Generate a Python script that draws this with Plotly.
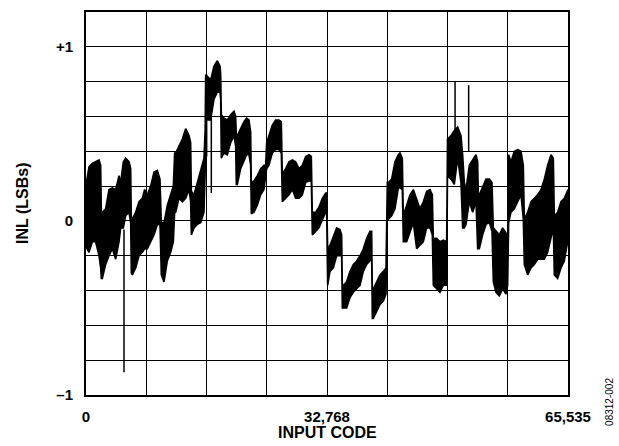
import plotly.graph_objects as go

# ---- data (INL envelope: max / min per input code) ----
codes = [0, 91, 408, 861, 1314, 1767, 1994, 2085, 2221, 2674, 3127, 3580, 4033, 4487,
         4713, 5076, 5393, 5846, 6073, 6163, 6299, 6753, 7206, 7659, 7976, 8339, 8792,
         9245, 9698, 10061, 10242, 10605, 11058, 11511, 11874, 12055, 12191, 12644, 13097,
         13551, 14004, 14230, 14321, 14684, 15137, 15590, 16043, 16200, 16270, 16496, 16949,
         17403, 17856, 18218, 18309, 18400, 18762, 19215, 19669, 20122, 20348, 20439, 20575,
         21028, 21481, 21844, 22161, 22388, 22478, 22841, 23294, 23747, 24201, 24427, 24563,
         24880, 25334, 25787, 26240, 26557, 26693, 27146, 27600, 28053, 28506, 28959, 29412,
         29866, 30319, 30636, 30772, 31225, 31678, 32132, 32585, 32721, 32857, 33174, 33627,
         34080, 34533, 34760, 34851, 34987, 35440, 35893, 36346, 36799, 37253, 37706, 38159,
         38612, 38839, 38929, 39065, 39519, 39972, 40425, 40788, 40969, 41105, 41558, 42011,
         42464, 42691, 43008, 43144, 43597, 44051, 44504, 44957, 45410, 45863, 46317, 46770,
         47087, 47223, 47676, 48129, 48582, 49036, 49150, 49626, 50079, 50532, 50985, 51212,
         51439, 51665, 52118, 52572, 53025, 53251, 53342, 53478, 53931, 54384, 54838, 55200,
         55381, 55744, 56197, 56650, 57104, 57330, 57466, 57783, 58237, 58690, 59143, 59460,
         59596, 60049, 60503, 60956, 61409, 61862, 62315, 62769, 63222, 63539, 63675, 64128,
         64581, 65034, 65487, 65535]

inl_max = [0.23, 0.23, 0.31, 0.33, 0.34, 0.35, 0.32, 0.05, 0.05, 0.07, 0.18, 0.19, 0.18, 0.26,
           0.22, 0.34, 0.36, 0.34, 0.30, 0.01, 0.01, 0.05, 0.11, 0.13, 0.18, 0.15, 0.20,
           0.28, 0.29, 0.24, -0.01, -0.01, 0.09, 0.15, 0.20, 0.39, 0.39, 0.43, 0.47,
           0.53, 0.49, 0.45, 0.17, 0.15, 0.22, 0.30, 0.36, 0.52, 0.84, 0.83, 0.81,
           0.89, 0.92, 0.89, 0.85, 0.61, 0.59, 0.58, 0.61, 0.63, 0.60, 0.49, 0.49,
           0.53, 0.57, 0.59, 0.58, 0.51, 0.22, 0.23, 0.26, 0.30, 0.32, 0.32, 0.45,
           0.49, 0.55, 0.58, 0.58, 0.57, 0.27, 0.30, 0.34, 0.35, 0.34, 0.30, 0.32,
           0.37, 0.38, 0.37, 0.05, 0.05, 0.08, 0.13, 0.16, 0.16, -0.16, -0.14, -0.09,
           -0.04, -0.05, -0.08, -0.37, -0.37, -0.35, -0.29, -0.25, -0.23, -0.20, -0.16, -0.10,
           -0.06, -0.06, -0.39, -0.39, -0.35, -0.31, -0.29, -0.27, 0.22, 0.22, 0.24, 0.34,
           0.38, 0.39, 0.36, 0.03, 0.09, 0.15, 0.18, 0.13, 0.07, 0.11, 0.17, 0.18,
           0.15, -0.10, -0.10, -0.12, -0.11, -0.12, 0.47, 0.49, 0.52, 0.54, 0.49, 0.38,
           0.22, 0.18, 0.32, 0.35, 0.38, 0.34, 0.15, 0.15, 0.20, 0.24, 0.24, 0.22,
           -0.04, -0.06, -0.08, -0.04, -0.07, -0.12, 0.38, 0.34, 0.40, 0.41, 0.40, 0.32,
           0.01, 0.05, 0.11, 0.13, 0.15, 0.18, 0.24, 0.32, 0.38, 0.36, 0.03, 0.05,
           0.11, 0.13, 0.18, 0.18]

inl_min = [-0.15, -0.15, -0.18, -0.12, -0.12, -0.20, -0.27, -0.33, -0.33, -0.25, -0.20, -0.16, -0.22, -0.12,
           -0.04, -0.04, 0.03, 0.05, -0.01, -0.30, -0.31, -0.27, -0.20, -0.18, -0.16, -0.16, -0.12,
           -0.08, -0.02, -0.02, -0.31, -0.35, -0.23, -0.18, -0.12, 0.05, 0.05, 0.13, 0.11,
           0.13, 0.18, 0.11, -0.08, -0.04, -0.02, -0.01, 0.05, 0.28, 0.58, 0.58, 0.58,
           0.70, 0.74, 0.74, 0.70, 0.36, 0.39, 0.38, 0.45, 0.49, 0.43, 0.21, 0.21,
           0.30, 0.34, 0.38, 0.38, 0.32, 0.04, 0.05, 0.09, 0.15, 0.18, 0.26, 0.30,
           0.32, 0.39, 0.41, 0.41, 0.39, 0.11, 0.13, 0.15, 0.18, 0.13, 0.13, 0.15,
           0.22, 0.23, 0.23, -0.08, -0.06, -0.04, 0.01, 0.05, 0.05, -0.37, -0.29, -0.27,
           -0.20, -0.20, -0.20, -0.50, -0.50, -0.50, -0.44, -0.41, -0.39, -0.37, -0.29, -0.25,
           -0.23, -0.20, -0.56, -0.56, -0.52, -0.48, -0.46, -0.42, 0.01, 0.01, 0.03, 0.07,
           0.19, 0.19, 0.18, -0.12, -0.12, -0.06, -0.01, -0.16, -0.14, -0.12, -0.04, -0.04,
           -0.08, -0.37, -0.39, -0.41, -0.37, -0.37, 0.26, 0.24, 0.21, 0.36, 0.22, -0.04,
           -0.04, -0.02, 0.11, 0.05, 0.11, -0.16, -0.16, -0.16, -0.08, -0.02, -0.01, -0.06,
           -0.35, -0.41, -0.43, -0.39, -0.42, -0.37, -0.01, 0.05, 0.07, 0.11, 0.15, 0.01,
           -0.25, -0.31, -0.27, -0.25, -0.22, -0.22, -0.22, -0.18, -0.10, -0.04, -0.31, -0.33,
           -0.27, -0.23, -0.12, -0.12]

# isolated glitch codes (vertical spikes) with their start / end INL
spike_codes = [5167, 16407, 17040, 50180, 52028]
spike_from = [-0.05, 0.84, 0.60, 0.50, 0.40]
spike_to = [-0.87, 0.37, 0.16, 0.80, 0.78]

x_tickvals = [0, 8192, 16384, 24576, 32768, 40960, 49152, 57344, 65535]
x_ticktext = ["0", "", "", "", "32,768", "", "", "", "65,535"]
y_tickvals = [-1.0, -0.8, -0.6, -0.4, -0.2, 0.0, 0.2, 0.4, 0.6, 0.8, 1.0, 1.2]
y_ticktext = ["–1", "", "", "", "", "0", "", "", "", "", "+1", ""]

fig = go.Figure()

# envelope polygon
fig.add_trace(go.Scatter(
    x=codes + codes[::-1],
    y=inl_max + inl_min[::-1],
    mode="lines", fill="toself", fillcolor="black",
    line=dict(color="black", width=1.6), hoverinfo="skip", showlegend=False))

for c, a, b in zip(spike_codes, spike_from, spike_to):
    fig.add_trace(go.Scatter(x=[c, c], y=[a, b], mode="lines",
                             line=dict(color="black", width=1.5),
                             showlegend=False, hoverinfo="skip"))

FONT = "Liberation Sans, Arial, Helvetica, sans-serif"

fig.update_layout(
    width=619, height=446,
    margin=dict(l=86, r=51, t=10, b=51),
    paper_bgcolor="white", plot_bgcolor="white",
    font=dict(family=FONT, color="black"),
    showlegend=False,
    xaxis=dict(range=[0, 65535], tickvals=x_tickvals, ticktext=x_ticktext,
               showgrid=True, gridcolor="black", gridwidth=1,
               showline=True, linecolor="black", linewidth=2, mirror=True,
               zeroline=False, ticks="", ticklabelstandoff=7,
               tickfont=dict(family=FONT, size=15, color="black", weight="bold")),
    yaxis=dict(range=[-1, 1.2], tickvals=y_tickvals, ticktext=y_ticktext,
               showgrid=True, gridcolor="black", gridwidth=1,
               showline=True, linecolor="black", linewidth=2, mirror=True,
               zeroline=False, ticks="", ticklabelstandoff=8,
               tickfont=dict(family=FONT, size=15, color="black", weight="bold")),
    annotations=[
        dict(text="INL (LSBs)", xref="paper", yref="paper", x=-0.1307, y=0.4987,
             xanchor="center", yanchor="middle", textangle=-90, showarrow=False,
             font=dict(family=FONT, size=16, color="black", weight="bold")),
        dict(text="INPUT CODE", xref="paper", yref="paper", x=0.501, y=-0.0974,
             xanchor="center", yanchor="middle", showarrow=False,
             font=dict(family=FONT, size=16, color="black", weight="bold")),
        dict(text="08312-002", xref="paper", yref="paper", x=1.0871, y=-0.018,
             xanchor="center", yanchor="middle", textangle=-90, showarrow=False,
             font=dict(family=FONT, size=10, color="black")),
    ],
)

fig.write_html("out.html")
